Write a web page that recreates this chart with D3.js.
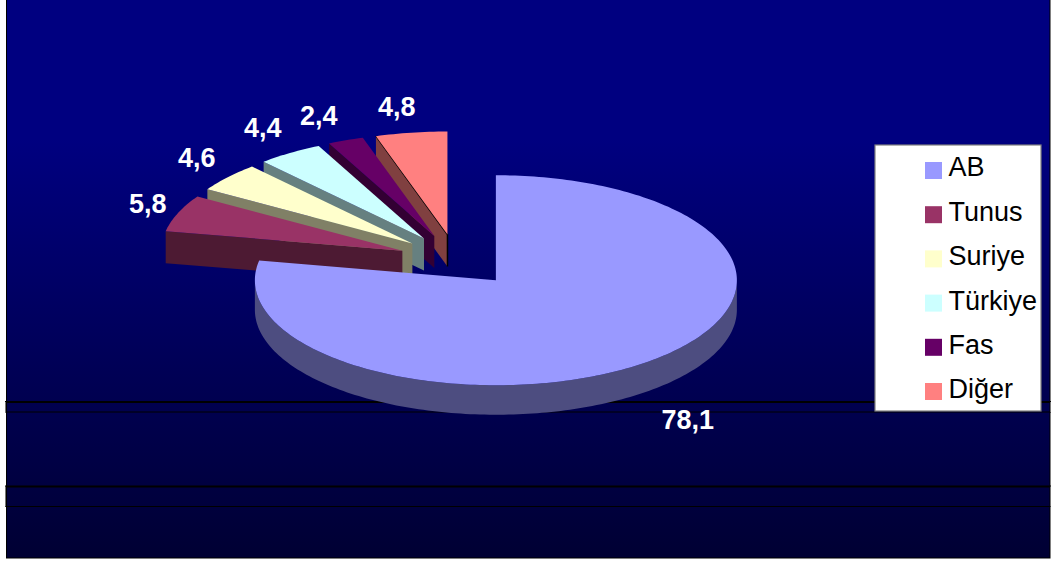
<!DOCTYPE html>
<html><head><meta charset="utf-8">
<script src="https://cdn.jsdelivr.net/npm/d3@7/dist/d3.min.js"></script>
<style>html,body{margin:0;padding:0;background:#fff}svg{display:block}text{font-family:"Liberation Sans",Arial,sans-serif}</style>
</head><body><div id="chart"></div>
<script>
const categories = ["AB","Tunus","Suriye","Türkiye","Fas","Diğer"];
const values = [78.1,5.8,4.6,4.4,2.4,4.8];
const labels = ["78,1","5,8","4,6","4,4","2,4","4,8"];
const colors = ["#9999ff","#993366","#ffffcc","#ccffff","#660066","#ff8080"];

const W=1052,H=563;
const cx=457.5,cy=260,rx=241,explode=0.25;
const labelAt=[[661.5,429],[129,213],[178,167],[244,137],[300,125],[378,116]];
const nudgeX=[0,1,1,0,-1,-1];

const svg=d3.select("#chart").append("svg").attr("width",W).attr("height",H);
const defs=svg.append("defs");
const grad=defs.append("linearGradient").attr("id","bg").attr("x1",0).attr("x2",0).attr("y1",0).attr("y2",1);
grad.append("stop").attr("offset",0).attr("stop-color","#000080");
grad.append("stop").attr("offset",0.25).attr("stop-color","#000080");
grad.append("stop").attr("offset",1).attr("stop-color","#000033");

svg.append("rect").attr("x",6.5).attr("y",-1).attr("width",1043.5).attr("height",559)
  .attr("fill","url(#bg)").attr("stroke","#000").attr("stroke-width",1);

[[402,412],[486.5,506.5]].forEach(([a,b])=>{
  svg.append("line").attr("x1",5).attr("x2",1051).attr("y1",a).attr("y2",a).attr("stroke","#000").attr("stroke-width",2);
  svg.append("line").attr("x1",5).attr("x2",1051).attr("y1",b).attr("y2",b).attr("stroke","#000").attr("stroke-width",1);
  [5.5,1050.5].forEach(x=>svg.append("line").attr("x1",x).attr("x2",x).attr("y1",a).attr("y2",b).attr("stroke","#777").attr("stroke-width",1));
});

const arcs=d3.pie().sort(null).value(d=>d)(values);
const line=d3.line();
function slice(a,i){
  const ry=i===0?105:103, depth=i===0?29.5:32;
  const mid=(a.startAngle+a.endAngle)/2;
  const ox=cx+nudgeX[i]+explode*rx*Math.sin(mid), oy=cy-explode*ry*Math.cos(mid);
  const pt=(t,r=1,dz=0)=>[ox+rx*r*Math.sin(t),oy-ry*r*Math.cos(t)+dz];
  const n=Math.max(4,Math.ceil((a.endAngle-a.startAngle)/0.02));
  const ts=d3.range(n+1).map(k=>a.startAngle+(a.endAngle-a.startAngle)*k/n);
  return {ox,oy,pt,ts,depth};
}
const darker=(c,f)=>{const k=d3.rgb(c);return d3.rgb(k.r*f,k.g*f,k.b*f).formatHex();};
const g=svg.append("g");
d3.range(arcs.length-1,-1,-1).forEach(i=>{
  const a=arcs[i],s=slice(a,i),c=colors[i],dk=darker(c,0.5),depth=s.depth;
  if(i>0){
    const e=s.pt(a.startAngle),f=s.pt(a.startAngle,1,depth),o=[s.ox,s.oy],p=[s.ox,s.oy+depth];
    g.append("path").attr("d",line([o,e,f,p])+"Z").attr("fill",dk);
    if(i===5) g.append("path").attr("d",line([e,o,p])).attr("fill","none").attr("stroke","#000").attr("stroke-width",1.5);
  }
  const front=s.ts.filter(t=>Math.cos(t)<=0);
  if(front.length>1){
    const wall=front.map(t=>s.pt(t)).concat(front.slice().reverse().map(t=>s.pt(t,1,depth)));
    g.append("path").attr("d",line(wall)+"Z").attr("fill",dk);
  }
  const top=[[s.ox,s.oy]].concat(s.ts.map(t=>s.pt(t)));
  g.append("path").attr("d",line(top)+"Z").attr("fill",c);
});

const lg=svg.append("g");
lg.append("rect").attr("x",875).attr("y",145).attr("width",166).attr("height",266)
  .attr("fill","#fff").attr("stroke","#808080").attr("stroke-width",1.2);
const rowY=d3.scalePoint().domain(categories).range([162,383]);
categories.forEach((n,i)=>{
  lg.append("rect").attr("x",925).attr("y",rowY(n)).attr("width",17).attr("height",17).attr("fill",colors[i]);
  lg.append("text").attr("x",948.5).attr("y",rowY(n)+(i===0?14:15)).attr("font-size",27).attr("fill","#000").text(n);
});
labels.forEach((t,i)=>{
  svg.append("text").attr("x",labelAt[i][0]).attr("y",labelAt[i][1]).attr("font-size",27)
    .attr("font-weight","bold").attr("fill","#fff").text(t);
});
</script></body></html>
